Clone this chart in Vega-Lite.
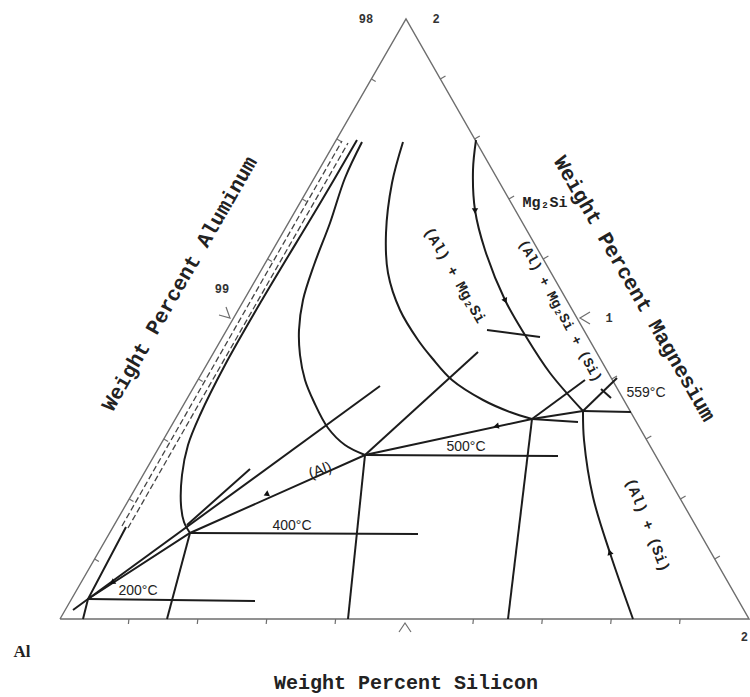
{
  "$schema": "https://vega.github.io/schema/vega-lite/v6.json",
  "width": 750,
  "height": 697,
  "padding": 0,
  "autosize": "none",
  "background": "white",
  "config": {"view": {"stroke": null}},
  "datasets": {
    "edges": [
      {"id": "triangle", "o": 1, "x": 60, "y": 619},
      {"id": "triangle", "o": 2, "x": 406, "y": 19},
      {"id": "triangle", "o": 3, "x": 749, "y": 619},
      {"id": "triangle", "o": 4, "x": 60, "y": 619}
    ],
    "ticks": [
      {"id": "b1", "o": 1, "x": 128.9, "y": 619}, {"id": "b1", "o": 2, "x": 128.4, "y": 624},
      {"id": "b2", "o": 1, "x": 197.8, "y": 619}, {"id": "b2", "o": 2, "x": 197.3, "y": 624},
      {"id": "b3", "o": 1, "x": 266.7, "y": 619}, {"id": "b3", "o": 2, "x": 266.2, "y": 624},
      {"id": "b4", "o": 1, "x": 335.6, "y": 619}, {"id": "b4", "o": 2, "x": 335.1, "y": 624},
      {"id": "b6", "o": 1, "x": 473.4, "y": 619}, {"id": "b6", "o": 2, "x": 472.9, "y": 624},
      {"id": "b7", "o": 1, "x": 542.3, "y": 619}, {"id": "b7", "o": 2, "x": 541.8, "y": 624},
      {"id": "b8", "o": 1, "x": 611.2, "y": 619}, {"id": "b8", "o": 2, "x": 610.7, "y": 624},
      {"id": "b9", "o": 1, "x": 680.1, "y": 619}, {"id": "b9", "o": 2, "x": 679.6, "y": 624},
      {"id": "bmid", "o": 1, "x": 399, "y": 632}, {"id": "bmid", "o": 2, "x": 405, "y": 623}, {"id": "bmid", "o": 3, "x": 411, "y": 632},
      {"id": "l1", "o": 1, "x": 94.6, "y": 559}, {"id": "l1", "o": 2, "x": 98.9, "y": 561.5},
      {"id": "l2", "o": 1, "x": 129.2, "y": 499}, {"id": "l2", "o": 2, "x": 133.5, "y": 501.5},
      {"id": "l3", "o": 1, "x": 163.8, "y": 439}, {"id": "l3", "o": 2, "x": 168.1, "y": 441.5},
      {"id": "l4", "o": 1, "x": 198.4, "y": 379}, {"id": "l4", "o": 2, "x": 202.7, "y": 381.5},
      {"id": "l6", "o": 1, "x": 267.6, "y": 259}, {"id": "l6", "o": 2, "x": 271.9, "y": 261.5},
      {"id": "l7", "o": 1, "x": 302.2, "y": 199}, {"id": "l7", "o": 2, "x": 306.5, "y": 201.5},
      {"id": "l8", "o": 1, "x": 336.8, "y": 139}, {"id": "l8", "o": 2, "x": 341.1, "y": 141.5},
      {"id": "l9", "o": 1, "x": 371.4, "y": 79}, {"id": "l9", "o": 2, "x": 375.7, "y": 81.5},
      {"id": "lmid", "o": 1, "x": 219, "y": 315}, {"id": "lmid", "o": 2, "x": 230, "y": 318}, {"id": "lmid", "o": 3, "x": 226, "y": 307},
      {"id": "r1", "o": 1, "x": 440.3, "y": 79}, {"id": "r1", "o": 2, "x": 445.5, "y": 76},
      {"id": "r2", "o": 1, "x": 474.6, "y": 139}, {"id": "r2", "o": 2, "x": 479.8, "y": 136},
      {"id": "r3", "o": 1, "x": 508.9, "y": 199}, {"id": "r3", "o": 2, "x": 514.1, "y": 196},
      {"id": "r4", "o": 1, "x": 543.2, "y": 259}, {"id": "r4", "o": 2, "x": 548.4, "y": 256},
      {"id": "r6", "o": 1, "x": 611.8, "y": 379}, {"id": "r6", "o": 2, "x": 617, "y": 376},
      {"id": "r7", "o": 1, "x": 646.1, "y": 439}, {"id": "r7", "o": 2, "x": 651.3, "y": 436},
      {"id": "r8", "o": 1, "x": 680.4, "y": 499}, {"id": "r8", "o": 2, "x": 685.6, "y": 496},
      {"id": "r9", "o": 1, "x": 714.7, "y": 559}, {"id": "r9", "o": 2, "x": 719.9, "y": 556},
      {"id": "rmid", "o": 1, "x": 590, "y": 312}, {"id": "rmid", "o": 2, "x": 580, "y": 318}, {"id": "rmid", "o": 3, "x": 590, "y": 324}
    ],
    "curves": [
      {"id": "c400", "o": 1, "x": 357, "y": 140}, {"id": "c400", "o": 2, "x": 322, "y": 200},
      {"id": "c400", "o": 3, "x": 262, "y": 300}, {"id": "c400", "o": 4, "x": 225, "y": 365},
      {"id": "c400", "o": 5, "x": 200, "y": 415}, {"id": "c400", "o": 6, "x": 188, "y": 445},
      {"id": "c400", "o": 7, "x": 182, "y": 475}, {"id": "c400", "o": 8, "x": 181, "y": 505},
      {"id": "c400", "o": 9, "x": 184, "y": 522}, {"id": "c400", "o": 10, "x": 190, "y": 533},
      {"id": "c500", "o": 1, "x": 362, "y": 142}, {"id": "c500", "o": 2, "x": 345, "y": 178},
      {"id": "c500", "o": 3, "x": 330, "y": 223}, {"id": "c500", "o": 4, "x": 314, "y": 265},
      {"id": "c500", "o": 5, "x": 303, "y": 300}, {"id": "c500", "o": 6, "x": 299, "y": 330},
      {"id": "c500", "o": 7, "x": 300, "y": 355}, {"id": "c500", "o": 8, "x": 305, "y": 380},
      {"id": "c500", "o": 9, "x": 314, "y": 402}, {"id": "c500", "o": 10, "x": 328, "y": 428},
      {"id": "c500", "o": 11, "x": 345, "y": 445}, {"id": "c500", "o": 12, "x": 365, "y": 455},
      {"id": "c550", "o": 1, "x": 403, "y": 142}, {"id": "c550", "o": 2, "x": 392, "y": 183},
      {"id": "c550", "o": 3, "x": 386, "y": 233}, {"id": "c550", "o": 4, "x": 388, "y": 273},
      {"id": "c550", "o": 5, "x": 400, "y": 310}, {"id": "c550", "o": 6, "x": 418, "y": 340},
      {"id": "c550", "o": 7, "x": 432, "y": 358}, {"id": "c550", "o": 8, "x": 452, "y": 380},
      {"id": "c550", "o": 9, "x": 483, "y": 400}, {"id": "c550", "o": 10, "x": 510, "y": 412},
      {"id": "c550", "o": 11, "x": 532, "y": 419},
      {"id": "cmono", "o": 1, "x": 476, "y": 140}, {"id": "cmono", "o": 2, "x": 473, "y": 170},
      {"id": "cmono", "o": 3, "x": 475, "y": 210}, {"id": "cmono", "o": 4, "x": 485, "y": 250},
      {"id": "cmono", "o": 5, "x": 505, "y": 300}, {"id": "cmono", "o": 6, "x": 525, "y": 335},
      {"id": "cmono", "o": 7, "x": 550, "y": 373}, {"id": "cmono", "o": 8, "x": 583, "y": 411},
      {"id": "ceut", "o": 1, "x": 583, "y": 411}, {"id": "ceut", "o": 2, "x": 584, "y": 440},
      {"id": "ceut", "o": 3, "x": 593, "y": 497}, {"id": "ceut", "o": 4, "x": 610, "y": 553},
      {"id": "ceut", "o": 5, "x": 633, "y": 619}
    ],
    "lines": [
      {"id": "valley", "o": 1, "x": 73, "y": 610}, {"id": "valley", "o": 2, "x": 88, "y": 599},
      {"id": "valley", "o": 3, "x": 190, "y": 533}, {"id": "valley", "o": 4, "x": 365, "y": 455},
      {"id": "valley", "o": 5, "x": 532, "y": 419}, {"id": "valley", "o": 6, "x": 583, "y": 411},
      {"id": "s200", "o": 1, "x": 83, "y": 619}, {"id": "s200", "o": 2, "x": 88, "y": 599}, {"id": "s200", "o": 3, "x": 126, "y": 527},
      {"id": "s400", "o": 1, "x": 190, "y": 533}, {"id": "s400", "o": 2, "x": 167, "y": 619},
      {"id": "s500", "o": 1, "x": 365, "y": 455}, {"id": "s500", "o": 2, "x": 348, "y": 619},
      {"id": "s550", "o": 1, "x": 532, "y": 419}, {"id": "s550", "o": 2, "x": 508, "y": 619},
      {"id": "t200", "o": 1, "x": 88, "y": 599}, {"id": "t200", "o": 2, "x": 255, "y": 601},
      {"id": "t400", "o": 1, "x": 190, "y": 533}, {"id": "t400", "o": 2, "x": 418, "y": 534},
      {"id": "t500", "o": 1, "x": 365, "y": 455}, {"id": "t500", "o": 2, "x": 558, "y": 456},
      {"id": "t550", "o": 1, "x": 532, "y": 419}, {"id": "t550", "o": 2, "x": 578, "y": 422},
      {"id": "t559", "o": 1, "x": 583, "y": 411}, {"id": "t559", "o": 2, "x": 631, "y": 412},
      {"id": "m200", "o": 1, "x": 88, "y": 599}, {"id": "m200", "o": 2, "x": 380, "y": 386},
      {"id": "m400", "o": 1, "x": 187, "y": 525}, {"id": "m400", "o": 2, "x": 250, "y": 469},
      {"id": "m500", "o": 1, "x": 365, "y": 455}, {"id": "m500", "o": 2, "x": 478, "y": 352},
      {"id": "m550", "o": 1, "x": 532, "y": 419}, {"id": "m550", "o": 2, "x": 585, "y": 380},
      {"id": "m559", "o": 1, "x": 583, "y": 411}, {"id": "m559", "o": 2, "x": 617, "y": 378},
      {"id": "mark559", "o": 1, "x": 601, "y": 389}, {"id": "mark559", "o": 2, "x": 611, "y": 398},
      {"id": "lead", "o": 1, "x": 487, "y": 330}, {"id": "lead", "o": 2, "x": 540, "y": 337}
    ],
    "dashed": [
      {"id": "d1", "o": 1, "x": 122, "y": 526}, {"id": "d1", "o": 2, "x": 342, "y": 141},
      {"id": "d2", "o": 1, "x": 128, "y": 528}, {"id": "d2", "o": 2, "x": 348, "y": 143}
    ],
    "arrows": [
      {"x": 113, "y": 582, "heading": 237},
      {"x": 267, "y": 494, "heading": 246},
      {"x": 497, "y": 426, "heading": 258},
      {"x": 475, "y": 210, "heading": 180},
      {"x": 505, "y": 300, "heading": 155},
      {"x": 610, "y": 553, "heading": 343}
    ]
  },
  "encoding": {
    "x": {"field": "x", "type": "quantitative", "scale": {"domain": [0, 750], "nice": false, "zero": false}, "axis": null},
    "y": {"field": "y", "type": "quantitative", "scale": {"domain": [0, 697], "nice": false, "zero": false, "reverse": true}, "axis": null}
  },
  "layer": [
    {
      "data": {"name": "edges"},
      "mark": {"type": "line", "color": "#6e6e6e", "strokeWidth": 1.4},
      "encoding": {"detail": {"field": "id"}, "order": {"field": "o"}}
    },
    {
      "data": {"name": "ticks"},
      "mark": {"type": "line", "color": "#6e6e6e", "strokeWidth": 1.2},
      "encoding": {"detail": {"field": "id"}, "order": {"field": "o"}}
    },
    {
      "data": {"name": "dashed"},
      "mark": {"type": "line", "color": "#444444", "strokeWidth": 1.3, "strokeDash": [6, 3]},
      "encoding": {"detail": {"field": "id"}, "order": {"field": "o"}}
    },
    {
      "data": {"name": "curves"},
      "mark": {"type": "line", "color": "#1c1c1c", "strokeWidth": 2, "interpolate": "catmull-rom"},
      "encoding": {"detail": {"field": "id"}, "order": {"field": "o"}}
    },
    {
      "data": {"name": "lines"},
      "mark": {"type": "line", "color": "#1c1c1c", "strokeWidth": 2},
      "encoding": {"detail": {"field": "id"}, "order": {"field": "o"}}
    },
    {
      "data": {"name": "arrows"},
      "mark": {"type": "point", "shape": "triangle", "filled": true, "color": "#111111", "size": 40, "opacity": 1},
      "encoding": {"angle": {"field": "heading", "type": "quantitative", "scale": null}}
    },
    {
      "data": {"values": [
        {"x": 180, "y": 284, "t": "Weight Percent Aluminum"}
      ]},
      "mark": {"type": "text", "font": "Liberation Mono", "fontWeight": "bold", "fontSize": 21, "angle": -60, "color": "#222222", "align": "center", "baseline": "middle"},
      "encoding": {"text": {"field": "t"}}
    },
    {
      "data": {"values": [
        {"x": 634, "y": 289, "t": "Weight Percent Magnesium"}
      ]},
      "mark": {"type": "text", "font": "Liberation Mono", "fontWeight": "bold", "fontSize": 21, "angle": 60, "color": "#222222", "align": "center", "baseline": "middle"},
      "encoding": {"text": {"field": "t"}}
    },
    {
      "data": {"values": [
        {"x": 406, "y": 683, "t": "Weight Percent Silicon"}
      ]},
      "mark": {"type": "text", "font": "Liberation Mono", "fontWeight": "bold", "fontSize": 20, "color": "#222222", "align": "center", "baseline": "middle"},
      "encoding": {"text": {"field": "t"}}
    },
    {
      "data": {"values": [
        {"x": 22, "y": 652, "t": "Al"}
      ]},
      "mark": {"type": "text", "font": "Liberation Serif", "fontWeight": "bold", "fontSize": 17, "color": "#222222", "align": "center", "baseline": "middle"},
      "encoding": {"text": {"field": "t"}}
    },
    {
      "data": {"values": [
        {"x": 366, "y": 19, "t": "98"},
        {"x": 436, "y": 19, "t": "2"},
        {"x": 222, "y": 289, "t": "99"},
        {"x": 609, "y": 318, "t": "1"}
      ]},
      "mark": {"type": "text", "font": "Liberation Mono", "fontWeight": "bold", "fontSize": 12, "color": "#333333", "align": "center", "baseline": "middle"},
      "encoding": {"text": {"field": "t"}}
    },
    {
      "data": {"values": [
        {"x": 748, "y": 637, "t": "2"}
      ]},
      "mark": {"type": "text", "font": "Liberation Mono", "fontWeight": "bold", "fontSize": 12, "color": "#333333", "align": "right", "baseline": "middle"},
      "encoding": {"text": {"field": "t"}}
    },
    {
      "data": {"values": [
        {"x": 455, "y": 275, "t": "(Al) + Mg₂Si"}
      ]},
      "mark": {"type": "text", "font": "Liberation Mono", "fontWeight": "bold", "fontSize": 15, "angle": 60, "color": "#222222", "align": "center", "baseline": "middle"},
      "encoding": {"text": {"field": "t"}}
    },
    {
      "data": {"values": [
        {"x": 560, "y": 311, "t": "(Al) + Mg₂Si + (Si)"}
      ]},
      "mark": {"type": "text", "font": "Liberation Mono", "fontWeight": "bold", "fontSize": 14, "angle": 61.5, "color": "#222222", "align": "center", "baseline": "middle"},
      "encoding": {"text": {"field": "t"}}
    },
    {
      "data": {"values": [
        {"x": 648, "y": 525, "t": "(Al) + (Si)"}
      ]},
      "mark": {"type": "text", "font": "Liberation Mono", "fontWeight": "bold", "fontSize": 15, "angle": 69, "color": "#222222", "align": "center", "baseline": "middle"},
      "encoding": {"text": {"field": "t"}}
    },
    {
      "data": {"values": [
        {"x": 545, "y": 202, "t": "Mg₂Si"}
      ]},
      "mark": {"type": "text", "font": "Liberation Mono", "fontWeight": "bold", "fontSize": 15, "color": "#222222", "align": "center", "baseline": "middle"},
      "encoding": {"text": {"field": "t"}}
    },
    {
      "data": {"values": [
        {"x": 320, "y": 470, "t": "(Al)"}
      ]},
      "mark": {"type": "text", "font": "Liberation Sans", "fontSize": 15, "angle": -20, "color": "#222222", "align": "center", "baseline": "middle"},
      "encoding": {"text": {"field": "t"}}
    },
    {
      "data": {"values": [
        {"x": 138, "y": 591, "t": "200°C"},
        {"x": 292, "y": 526, "t": "400°C"},
        {"x": 466, "y": 447, "t": "500°C"},
        {"x": 646, "y": 393, "t": "559°C"}
      ]},
      "mark": {"type": "text", "font": "Liberation Sans", "fontSize": 14, "color": "#222222", "align": "center", "baseline": "middle"},
      "encoding": {"text": {"field": "t"}}
    }
  ]
}
